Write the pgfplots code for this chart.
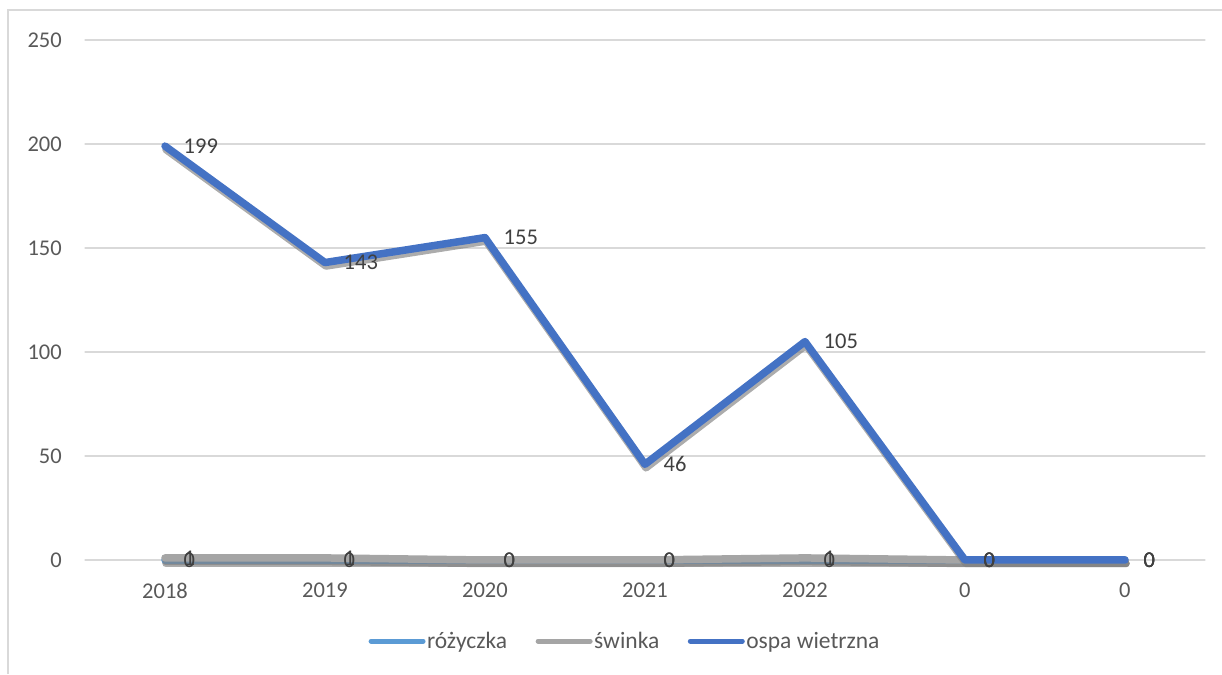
\documentclass[border=0pt]{standalone}
\usepackage{pgfplots}
\pgfplotsset{compat=1.18}
\usepackage{fontspec}
\setmainfont{Carlito}

\definecolor{gridgray}{HTML}{D9D9D9}
\definecolor{ticktext}{HTML}{595959}
\definecolor{labeltext}{HTML}{404040}
\definecolor{rozyczka}{HTML}{5B9BD5}
\definecolor{swinka}{HTML}{A5A5A5}
\definecolor{ospa}{HTML}{4472C4}

\newcommand{\chartfont}{\fontsize{22.5}{27}\selectfont}
\newcommand{\legendfont}{\fontsize{23.5}{28}\selectfont}

\begin{document}
\begin{tikzpicture}[x=1pt,y=1pt]
\path[use as bounding box] (0,0) rectangle (1222,674);
\draw[gridgray, line width=1.3pt] (8,0) -- (8,664) -- (1222,664);

\begin{axis}[
    at={(85pt,114pt)}, anchor=south west,
    scale only axis,
    width=1120pt, height=520pt,
    xmin=-0.5, xmax=6.5,
    ymin=0, ymax=250,
    xtick={0,1,2,3,4,5,6},
    xticklabels={2018,2019,2020,2021,2022,0,0},
    ytick={0,50,100,150,200,250},
    ymajorgrids,
    major grid style={gridgray, line width=1.3pt},
    axis line style={draw=none},
    major tick length=0pt,
    tick style={draw=none},
    clip=false,
    /pgf/number format/assume math mode=true,
    tick label style={font=\chartfont, text=ticktext, inner sep=0pt},
    xticklabel style={anchor=north, yshift=-23pt},
    yticklabel style={anchor=east, xshift=-23pt},
    line join=round, line cap=round,
    legend columns=3,
    legend style={
        at={(0.482,-0.156)}, anchor=center,
        draw=none, fill=none,
        font=\legendfont, text=ticktext,
        nodes={inner sep=1.5pt},
        /tikz/every even column/.append style={column sep=27pt},
    },
    legend image code/.code={
        \draw[line width=5pt, line cap=round, #1] (2.5pt,0pt) -- (54.5pt,0pt);
    },
    every node near coord/.append style={
        anchor=west, inner sep=0pt, xshift=15pt,
        font=\chartfont, text=labeltext,
    },
]

% różyczka
\addplot[gray, opacity=0.65, line width=7.5pt, xshift=1pt, yshift=-3.5pt, forget plot]
coordinates {(0,0) (1,0) (2,0) (3,0) (4,0) (5,0) (6,0)};
\addplot[rozyczka, line width=7.5pt, nodes near coords]
coordinates {(0,0) (1,0) (2,0) (3,0) (4,0) (5,0) (6,0)};
\addlegendentry{różyczka}

% świnka
\addplot[gray, opacity=0.65, line width=7.5pt, xshift=1pt, yshift=-3.5pt, forget plot]
coordinates {(0,1) (1,1) (2,0) (3,0) (4,1) (5,0) (6,0)};
\addplot[swinka, line width=7.5pt, nodes near coords]
coordinates {(0,1) (1,1) (2,0) (3,0) (4,1) (5,0) (6,0)};
\addlegendentry{świnka}

% ospa wietrzna
\addplot[gray, opacity=0.65, line width=7.5pt, xshift=1pt, yshift=-3.5pt, forget plot]
coordinates {(0,199) (1,143) (2,155) (3,46) (4,105) (5,0) (6,0)};
\addplot[ospa, line width=7.5pt, nodes near coords]
coordinates {(0,199) (1,143) (2,155) (3,46) (4,105) (5,0) (6,0)};
\addlegendentry{ospa wietrzna}

\end{axis}
\end{tikzpicture}
\end{document}
